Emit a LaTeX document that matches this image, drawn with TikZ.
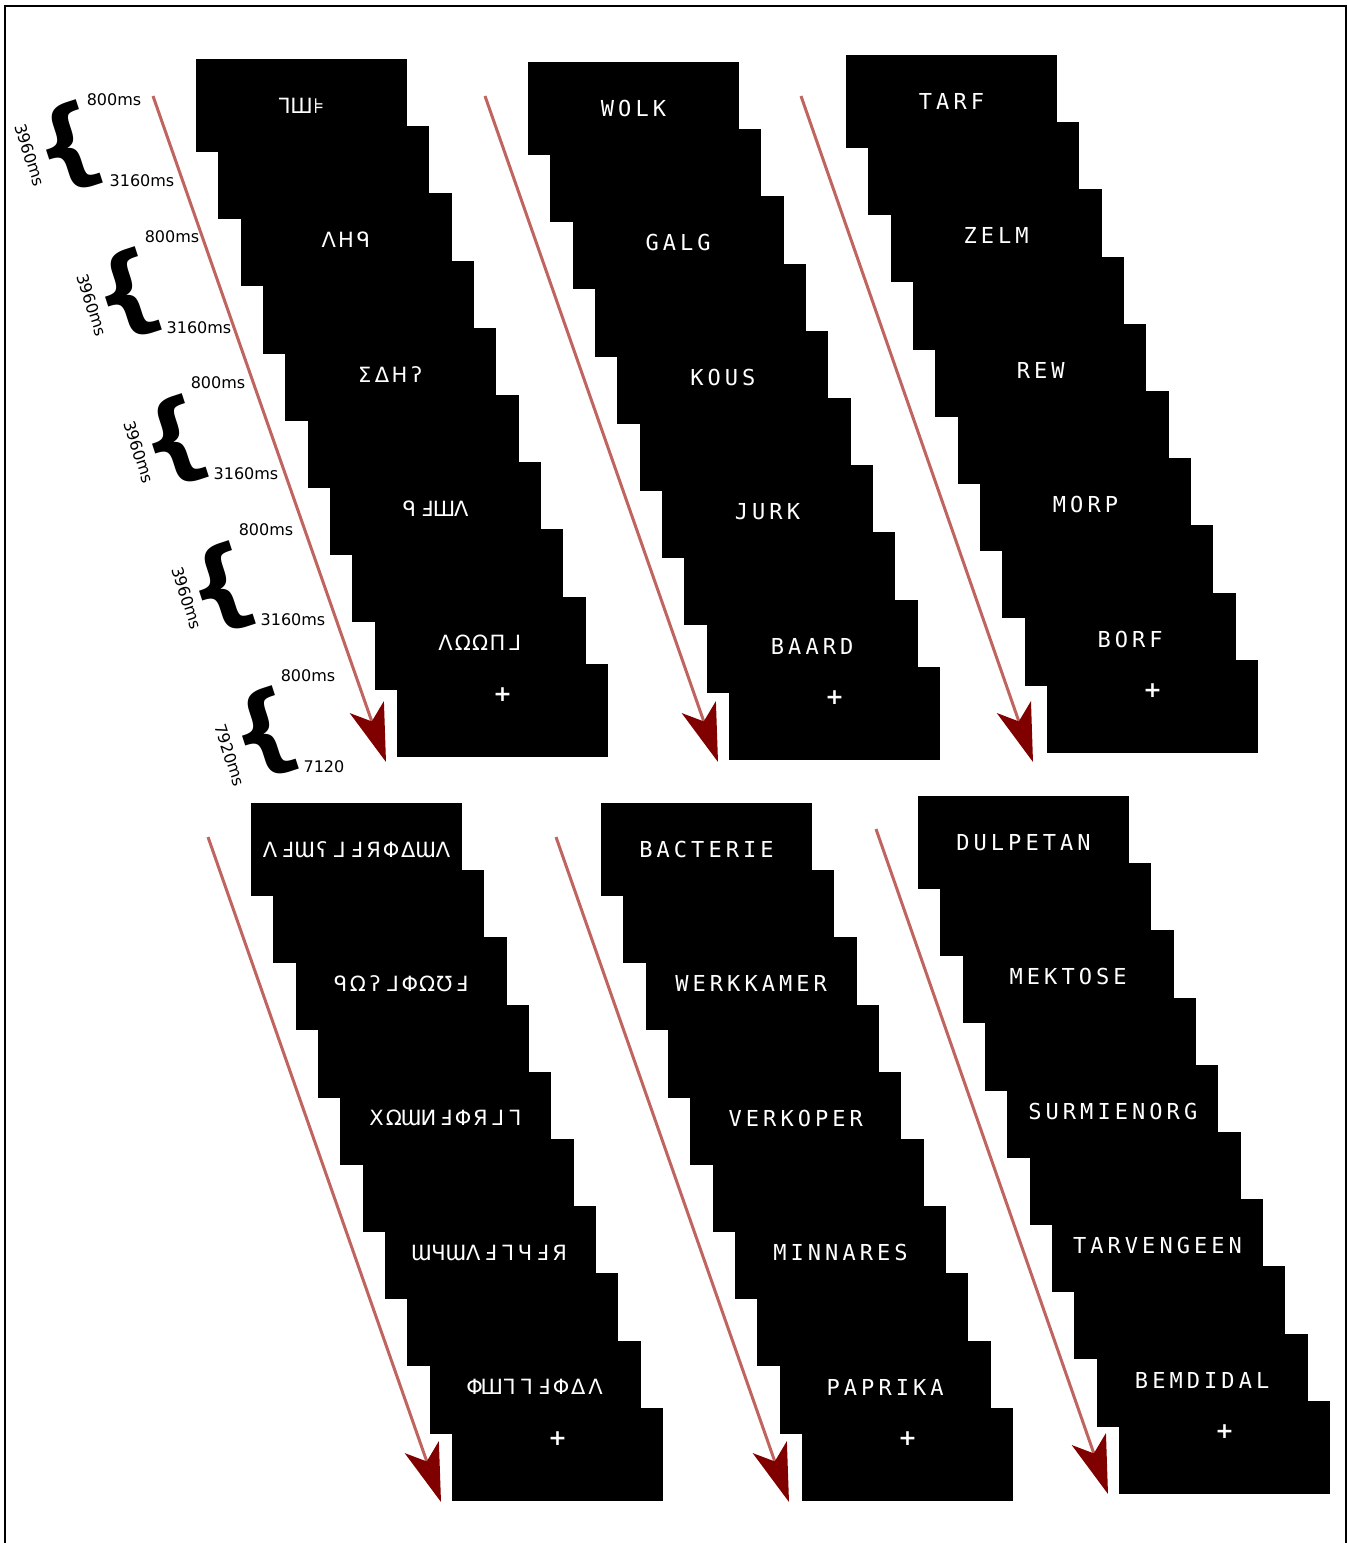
\documentclass[tikz,border=0pt]{standalone}
\usepackage{fontspec}
\setmainfont{DejaVu Sans}
\newfontfamily\wordfont{DejaVu Sans Mono}
\newfontfamily\pseudofont{DejaVu Sans}
\usetikzlibrary{arrows.meta}
\definecolor{shaft}{RGB}{192,100,96}
\definecolor{tipred}{RGB}{128,0,0}
\makeatletter
\newcommand\spacedword[1]{\@tfor\spch:=#1\do{\makebox[17.3pt]{\spch}}}
\makeatother
\tikzset{
  cardbox/.style={fill=black, draw=none, anchor=north west, minimum width=211pt, minimum height=93pt, inner sep=0pt, outer sep=0pt},
  realword/.style={text=white, font=\wordfont\fontsize{22}{22}\selectfont, inner sep=0pt},
  fakeword/.style={text=white, font=\pseudofont\fontsize{21}{21}\selectfont, inner sep=0pt},
  plusmark/.style={text=white, font=\pseudofont\bfseries\fontsize{22}{22}\selectfont, inner sep=0pt},
  timelabel/.style={font=\fontsize{16}{16}\selectfont, inner sep=0pt},
  bracemark/.style={font=\bfseries\fontsize{95}{95}\selectfont, inner sep=0pt},
  timearrow/.style={draw=shaft, line width=3pt, -{Stealth[length=58pt,width=36pt,inset=15pt,color=tipred]}}
}
\newcommand\cardstack[9]{%
  \foreach \k in {0,...,9}{
    \node[cardbox] (#1\k) at ({#2+22.33*\k},{#3+67.2*\k}) {};
  }
  \node[#4] (#1w0) at (#10.center) {\spacedword{#5}};
  \node[#4] (#1w2) at (#12.center) {\spacedword{#6}};
  \node[#4] (#1w4) at (#14.center) {\spacedword{#7}};
  \node[#4] (#1w6) at (#16.center) {\spacedword{#8}};
  \node[#4] (#1w8) at (#18.center) {\spacedword{#9}};
  \node[plusmark] (#1p) at ([yshift=16pt]#19.center) {+};
}
\begin{document}
\begin{tikzpicture}[x=1pt,y=-1pt]
\useasboundingbox (0,0) rectangle (1347,1543);
\draw[line width=2pt] (5,6) rectangle (1346,1570);

% stacks
\cardstack{tl}{196}{59}{fakeword}{ᒣШ⊧}{ᐱᕼᑫ}{ΣΔᕼʔ}{ᑫℲШᐱ}{ΛΩΩΠᒧ}
\cardstack{tm}{528}{62}{realword}{WOLK}{GALG}{KOUS}{JURK}{BAARD}
\cardstack{tr}{846}{55}{realword}{TARF}{ZELM}{REW}{MORP}{BORF}
\cardstack{bl}{251}{803}{fakeword}{ΛℲƜʕᒧℲЯΦΔƜᐱ}{ᑫΩʔᒧΦΩƱℲ}{ΧΩƜИℲΦЯᒧᒣ}{ƜЧƜᐱℲᒣЧℲЯ}{ΦШᒣᒣℲΦΔᐱ}
\cardstack{bm}{601}{803}{realword}{BACTERIE}{WERKKAMER}{VERKOPER}{MINNARES}{PAPRIKA}
\cardstack{br}{918}{796}{realword}{DULPETAN}{MEKTOSE}{SURMIENORG}{TARVENGEEN}{BEMDIDAL}

% time arrows
\coordinate (a1s) at (153,96);  \coordinate (a1e) at (386,762);
\coordinate (a2s) at (485,96);  \coordinate (a2e) at (718,762);
\coordinate (a3s) at (801,96);  \coordinate (a3e) at (1033,762);
\coordinate (a4s) at (208,837); \coordinate (a4e) at (441,1502);
\coordinate (a5s) at (556,837); \coordinate (a5e) at (789,1502);
\coordinate (a6s) at (876,829); \coordinate (a6e) at (1108,1494);
\draw[timearrow] (a1s) -- (a1e);
\draw[timearrow] (a2s) -- (a2e);
\draw[timearrow] (a3s) -- (a3e);
\draw[timearrow] (a4s) -- (a4e);
\draw[timearrow] (a5s) -- (a5e);
\draw[timearrow] (a6s) -- (a6e);

% braces and timing labels
\node[bracemark, rotate=18] (br1) at (69,148) {\{};
\node[bracemark, rotate=18] (br2) at (128,295) {\{};
\node[bracemark, rotate=18] (br3) at (175,442) {\{};
\node[bracemark, rotate=18] (br4) at (222,589) {\{};
\node[bracemark, rotate=18] (br5) at (265,734) {\{};

\node[timelabel] (on1) at (114,100) {800ms};
\node[timelabel] (on2) at (172,237) {800ms};
\node[timelabel] (on3) at (218,383) {800ms};
\node[timelabel] (on4) at (266,530) {800ms};
\node[timelabel] (on5) at (308,676) {800ms};

\node[timelabel] (off1) at (142,181) {3160ms};
\node[timelabel] (off2) at (199,328) {3160ms};
\node[timelabel] (off3) at (246,474) {3160ms};
\node[timelabel] (off4) at (293,620) {3160ms};
\node[timelabel] (off5) at (324,767) {7120};

\node[timelabel, rotate=-72] (tot1) at (30,155) {3960ms};
\node[timelabel, rotate=-72] (tot2) at (92,305) {3960ms};
\node[timelabel, rotate=-72] (tot3) at (139,452) {3960ms};
\node[timelabel, rotate=-72] (tot4) at (187,598) {3960ms};
\node[timelabel, rotate=-72] (tot5) at (230,755) {7920ms};
\end{tikzpicture}
\end{document}
